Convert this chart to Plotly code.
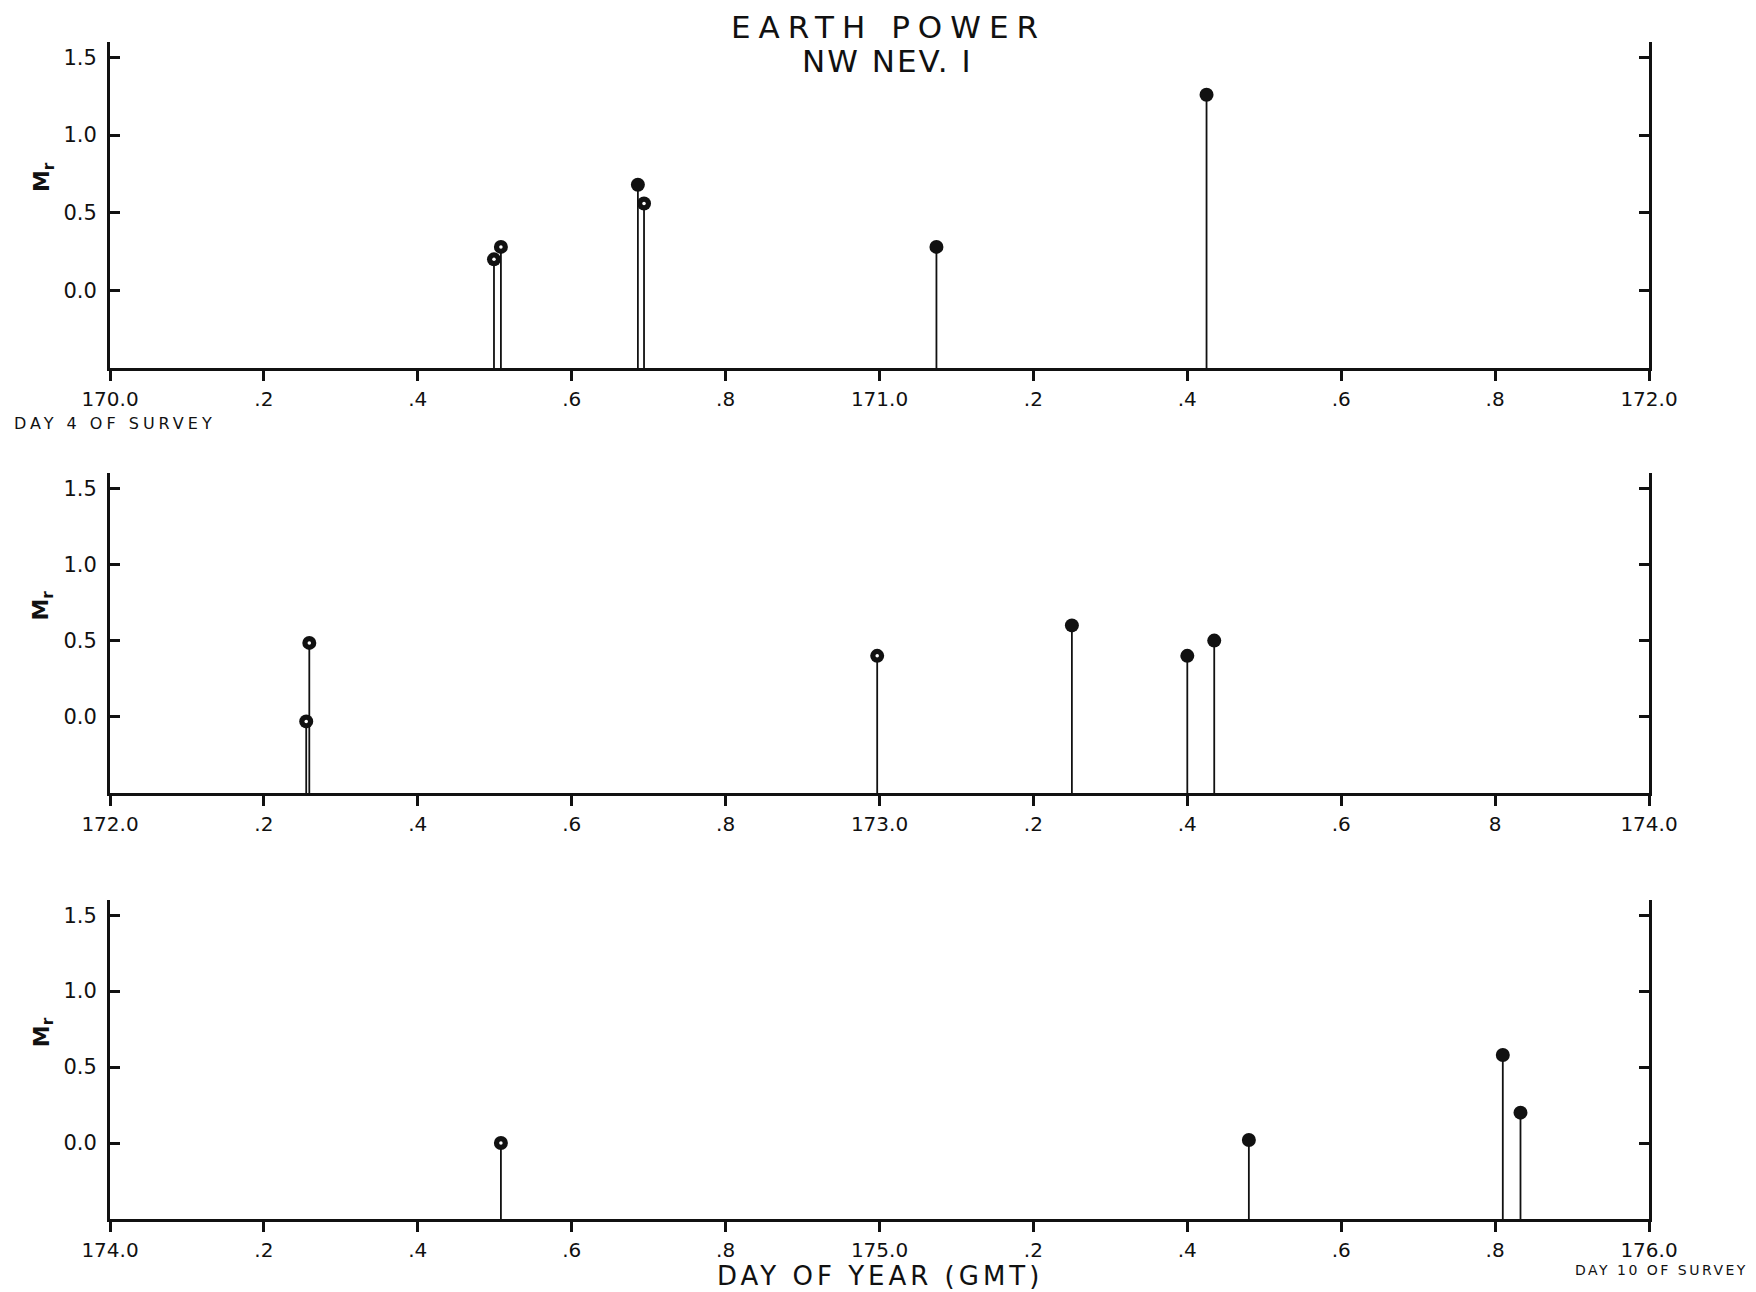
import plotly.graph_objects as go

# ---------------- data ----------------
p1_day = [170.499, 170.508, 170.686, 170.694, 171.074, 171.425]
p1_mr = [0.20, 0.28, 0.68, 0.56, 0.28, 1.26]
p1_kind = ["ring", "ring", "solid", "ring", "solid", "solid"]

p2_day = [172.255, 172.259, 172.997, 173.250, 173.400, 173.435]
p2_mr = [-0.03, 0.485, 0.40, 0.60, 0.40, 0.50]
p2_kind = ["ring", "ring", "ring", "solid", "solid", "solid"]

p3_day = [174.508, 175.480, 175.810, 175.833]
p3_mr = [0.00, 0.02, 0.58, 0.20]
p3_kind = ["ring", "solid", "solid", "solid"]

p1_ticktext = ["170.0", ".2", ".4", ".6", ".8", "171.0", ".2", ".4", ".6", ".8", "172.0"]
p2_ticktext = ["172.0", ".2", ".4", ".6", ".8", "173.0", ".2", ".4", ".6", "8", "174.0"]
p3_ticktext = ["174.0", ".2", ".4", ".6", ".8", "175.0", ".2", ".4", ".6", ".8", "176.0"]
panel_start = [170.0, 172.0, 174.0]

y_tickvals = [0.0, 0.5, 1.0, 1.5]
y_ticktext = ["0.0", "0.5", "1.0", "1.5"]

title_lines = ["EARTH POWER", "NW NEV. I"]
y_label = "M<sub>r</sub>"
x_label = "DAY OF YEAR (GMT)"
note_first = "DAY 4 OF SURVEY"
note_last = "DAY 10 OF SURVEY"

# ---------------- figure ----------------
OFF = 8                      # page body margin of the written html
W, H = 1756 - OFF, 1292 - OFF
Y_MIN, Y_MAX = -0.5, 1.6
INK = "#111111"
FONT = "DejaVu Sans"


def fx(p):
    return (p - OFF) / W


def fy(p):
    return 1 - (p - OFF) / H


x_dom = [fx(110), fx(1649)]
y_doms = [
    [fy(368), fy(42)],
    [fy(793), fy(473)],
    [fy(1219), fy(900)],
]

panels = [
    (p1_day, p1_mr, p1_kind, p1_ticktext),
    (p2_day, p2_mr, p2_kind, p2_ticktext),
    (p3_day, p3_mr, p3_kind, p3_ticktext),
]

fig = go.Figure()
layout = dict(
    width=W, height=H,
    margin=dict(l=0, r=0, t=0, b=0, pad=0),
    paper_bgcolor="white", plot_bgcolor="white",
    showlegend=False,
    font=dict(family=FONT, color=INK),
)

annotations = []
for i, (days, mr, kind, ttext) in enumerate(panels):
    n = "" if i == 0 else str(i + 1)
    xa, ya = "x" + n, "y" + n
    # stems
    sx, sy = [], []
    for d, v in zip(days, mr):
        sx += [d, d, None]
        sy += [Y_MIN, v, None]
    fig.add_trace(go.Scatter(x=sx, y=sy, mode="lines", xaxis=xa, yaxis=ya,
                             line=dict(color=INK, width=1.8), hoverinfo="skip"))
    # heads
    fig.add_trace(go.Scatter(x=days, y=mr, mode="markers", xaxis=xa, yaxis=ya,
                             marker=dict(color=INK, size=14, line=dict(width=0))))
    rx = [d for d, k in zip(days, kind) if k == "ring"]
    ry = [v for v, k in zip(mr, kind) if k == "ring"]
    fig.add_trace(go.Scatter(x=rx, y=ry, mode="markers", xaxis=xa, yaxis=ya,
                             marker=dict(color="white", size=3.5, line=dict(width=0))))

    x0 = panel_start[i]
    tickvals = [round(x0 + 0.2 * k, 1) for k in range(len(ttext))]
    layout["xaxis" + n] = dict(
        domain=x_dom, anchor=ya, range=[x0, x0 + 2.0],
        tickvals=tickvals, ticktext=ttext,
        ticks="outside", ticklen=10, tickwidth=2.5, tickcolor=INK,
        showline=True, linewidth=3, linecolor=INK,
        showgrid=False, zeroline=False, automargin=False,
        tickfont=dict(size=20, color=INK, family=FONT),
        ticklabelstandoff=1,
    )
    layout["yaxis" + n] = dict(
        domain=y_doms[i], anchor=xa, range=[Y_MIN, Y_MAX],
        tickvals=y_tickvals, ticktext=y_ticktext,
        ticks="inside", ticklen=10, tickwidth=2.5, tickcolor=INK,
        showline=True, linewidth=3, linecolor=INK, mirror="ticks",
        showgrid=False, zeroline=False, automargin=False,
        tickfont=dict(size=21, color=INK, family=FONT),
        ticklabelstandoff=6,
    )
    annotations.append(dict(
        text="<b>" + y_label + "</b>", xref="paper", yref=ya, x=fx(43), y=0.73,
        textangle=-90, showarrow=False, xanchor="center", yanchor="middle",
        font=dict(size=22, color=INK, family=FONT)))

annotations += [
    dict(text='<span style="letter-spacing:8px">' + title_lines[0] + "</span>",
         xref="paper", yref="paper", x=fx(889), y=fy(27),
         showarrow=False, xanchor="center", yanchor="middle",
         font=dict(size=31, color=INK, family=FONT)),
    dict(text='<span style="letter-spacing:2px">' + title_lines[1] + "</span>",
         xref="paper", yref="paper", x=fx(887), y=fy(61),
         showarrow=False, xanchor="center", yanchor="middle",
         font=dict(size=31, color=INK, family=FONT)),
    dict(text='<span style="letter-spacing:4px">' + note_first + "</span>",
         xref="paper", yref="paper", x=fx(12), y=fy(423),
         showarrow=False, xanchor="left", yanchor="middle",
         font=dict(size=16, color=INK, family=FONT)),
    dict(text='<span style="letter-spacing:2.5px">' + note_last + "</span>",
         xref="paper", yref="paper", x=fx(1750), y=fy(1270),
         showarrow=False, xanchor="right", yanchor="middle",
         font=dict(size=14, color=INK, family=FONT)),
    dict(text='<span style="letter-spacing:4px">' + x_label + "</span>",
         xref="paper", yref="paper", x=fx(880), y=fy(1276),
         showarrow=False, xanchor="center", yanchor="middle",
         font=dict(size=26, color=INK, family=FONT)),
]
layout["annotations"] = annotations
fig.update_layout(**layout)
fig.write_html("out.html")
